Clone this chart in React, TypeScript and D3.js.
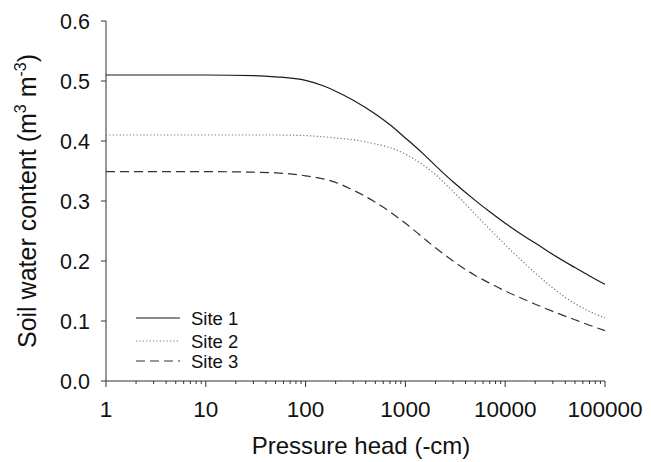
import React from "react";
import * as d3 from "d3";

const pressure = [1, 10, 30, 50, 100, 150, 200, 300, 500, 700, 1000, 1500, 2000, 3000, 5000, 7000, 10000, 15000, 20000, 30000, 50000, 70000, 100000];
const site1 = [0.510, 0.510, 0.509, 0.507, 0.501, 0.492, 0.483, 0.468, 0.445, 0.427, 0.405, 0.379, 0.359, 0.332, 0.301, 0.282, 0.263, 0.243, 0.230, 0.211, 0.189, 0.175, 0.161];
const site2 = [0.410, 0.410, 0.410, 0.410, 0.409, 0.407, 0.405, 0.402, 0.395, 0.389, 0.378, 0.360, 0.344, 0.316, 0.278, 0.253, 0.227, 0.199, 0.180, 0.155, 0.129, 0.116, 0.105];
const site3 = [0.349, 0.349, 0.348, 0.347, 0.342, 0.337, 0.331, 0.318, 0.298, 0.282, 0.263, 0.239, 0.222, 0.200, 0.176, 0.163, 0.150, 0.137, 0.128, 0.116, 0.102, 0.093, 0.084];
const seriesNames = ["Site 1", "Site 2", "Site 3"];
const xTicks = [1, 10, 100, 1000, 10000, 100000];
const yTicks = [0.0, 0.1, 0.2, 0.3, 0.4, 0.5, 0.6];

const W = 651, H = 462;
const left = 106, right = 605, top = 21, bottom = 381;
const FONT = "'Liberation Sans', Arial, Helvetica, sans-serif";

export default function App() {
  const x = d3.scaleLog().domain([1, 100000]).range([left, right]);
  const y = d3.scaleLinear().domain([0, 0.6]).range([bottom, top]);
  const styles = [
    { stroke: "#1a1a1a", dash: "none", width: 1.2 },
    { stroke: "#777", dash: "1.2,2.2", width: 1.2 },
    { stroke: "#333", dash: "9,5", width: 1.2 },
  ];
  const all = [site1, site2, site3];
  const line = d3
    .line<number>()
    .x((_, i) => x(pressure[i]))
    .y((d) => y(d))
    .curve(d3.curveMonotoneX);

  const minor: number[] = [];
  for (let e = 0; e < 5; e++) for (let k = 2; k <= 9; k++) minor.push(k * Math.pow(10, e));

  const legendY = [318, 341, 361];

  return (
    <svg width={W} height={H} style={{ position: "absolute", left: 0, top: 0, background: "#fff" }} fontFamily={FONT}>
      <rect x={0} y={0} width={W} height={H} fill="#fff" />
      <line x1={left} x2={left} y1={top} y2={bottom} stroke="#333" strokeWidth={1} />
      <line x1={left} x2={right} y1={bottom} y2={bottom} stroke="#333" strokeWidth={1} />
      {yTicks.map((t) => (
        <g key={"y" + t}>
          <line x1={left - 5} x2={left} y1={y(t)} y2={y(t)} stroke="#333" />
          <text x={90} y={y(t)} dy="0.36em" textAnchor="end" fontSize={21.5} fill="#111">
            {t.toFixed(1)}
          </text>
        </g>
      ))}
      {xTicks.map((t) => (
        <g key={"x" + t}>
          <line x1={x(t)} x2={x(t)} y1={bottom} y2={bottom + 6} stroke="#333" />
          <text x={x(t)} y={417} textAnchor="middle" fontSize={22.5} fill="#111">
            {String(t)}
          </text>
        </g>
      ))}
      {minor.map((t) => (
        <line key={"m" + t} x1={x(t)} x2={x(t)} y1={bottom} y2={bottom + 3} stroke="#333" />
      ))}
      <text x={361} y={454} textAnchor="middle" fontSize={24} fill="#111">
        Pressure head (-cm)
      </text>
      <text transform={`translate(36,${(top + bottom) / 2}) rotate(-90)`} textAnchor="middle" fontSize={25} fill="#111">
        Soil water content (m<tspan dy="-10" fontSize={16}>3</tspan>
        <tspan dy="10"> m</tspan>
        <tspan dy="-10" fontSize={16}>-3</tspan>
        <tspan dy="10">)</tspan>
      </text>
      {all.map((s, i) => (
        <path
          key={"s" + i}
          d={line(s) || ""}
          fill="none"
          stroke={styles[i].stroke}
          strokeWidth={styles[i].width}
          strokeDasharray={styles[i].dash}
        />
      ))}
      {seriesNames.map((n, i) => (
        <g key={"l" + i}>
          <line
            x1={136}
            x2={180}
            y1={legendY[i]}
            y2={legendY[i]}
            stroke={styles[i].stroke}
            strokeWidth={styles[i].width}
            strokeDasharray={styles[i].dash}
          />
          <text x={191} y={legendY[i]} dy="0.36em" fontSize={18.5} fill="#111">
            {n}
          </text>
        </g>
      ))}
    </svg>
  );
}
